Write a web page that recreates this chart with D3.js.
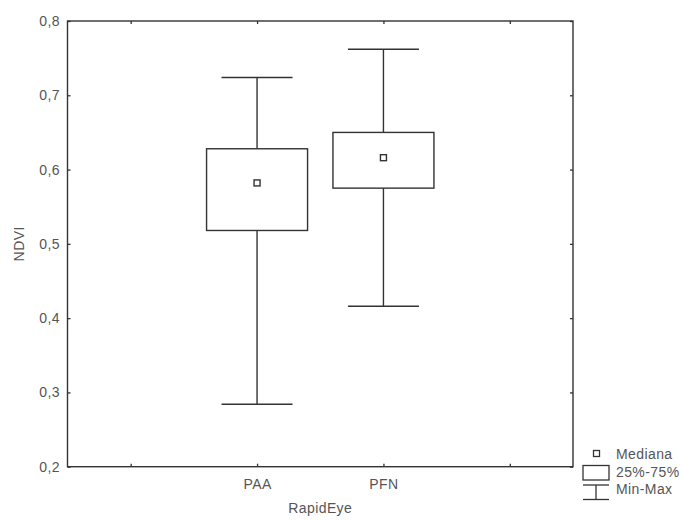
<!DOCTYPE html>
<html>
<head>
<meta charset="utf-8">
<script src="https://cdn.jsdelivr.net/npm/d3@7"></script>
<style>
  body { margin: 0; background: #fff; }
  text { font-family: "Liberation Sans", Arial, sans-serif; fill: #555; letter-spacing: 0.4px; }
</style>
</head>
<body>
<div id="chart"></div>
<script>
// groups and box stats
let groups = ["PAA", "PFN"];
let minVals = [0.284, 0.416];
let q1Vals = [0.518, 0.575];
let medVals = [0.582, 0.616];
let q3Vals = [0.628, 0.650];
let maxVals = [0.724, 0.762];
let yTicks = [0.2, 0.3, 0.4, 0.5, 0.6, 0.7, 0.8];

let W = 681, H = 520;
let plotL = 67.5, plotR = 573, plotT = 21, plotB = 466.7;
let stroke = "#333";
let fs = "14px";

let svg = d3.select("#chart").append("svg")
    .attr("width", W)
    .attr("height", H);

// empty slots on both ends, like the original
let slots = ["_a"].concat(groups, ["_b"]);
let x = d3.scalePoint().domain(slots).range([plotL, plotR]).padding(0.5);
let y = d3.scaleLinear().domain([0.2, 0.8]).range([plotB, plotT]);

let fmt = d => d3.format(".1f")(d).replace(".", ",");

// axes, ticks pointing inward
svg.append("g")
    .attr("transform", `translate(${plotL},0)`)
    .call(d3.axisLeft(y).tickValues(yTicks).tickSize(-3).tickPadding(7.5).tickFormat(fmt))
    .call(g => g.select(".domain").remove());
svg.append("g")
    .attr("transform", `translate(${plotR},0)`)
    .call(d3.axisRight(y).tickValues(yTicks).tickSize(-3).tickFormat(""))
    .call(g => g.select(".domain").remove());
svg.append("g")
    .attr("transform", `translate(0,${plotB})`)
    .call(d3.axisBottom(x).tickSize(-3).tickPadding(12.5).tickFormat(d => groups.includes(d) ? d : ""))
    .call(g => g.select(".domain").remove());
svg.append("g")
    .attr("transform", `translate(0,${plotT})`)
    .call(d3.axisTop(x).tickSize(-3).tickFormat(""))
    .call(g => g.select(".domain").remove());

svg.selectAll(".tick line").attr("stroke", stroke).attr("stroke-width", 1.3);
svg.selectAll(".tick text").style("font-size", fs).attr("fill", "#555");

// frame
svg.append("rect")
    .attr("x", plotL).attr("y", plotT)
    .attr("width", plotR - plotL).attr("height", plotB - plotT)
    .attr("fill", "none").attr("stroke", stroke).attr("stroke-width", 1.4);

// axis titles
svg.append("text")
    .attr("text-anchor", "middle")
    .attr("transform", `translate(24,${(plotT + plotB) / 2})rotate(-90)`)
    .style("font-size", fs)
    .text("NDVI");
svg.append("text")
    .attr("text-anchor", "middle")
    .attr("x", (plotL + plotR) / 2)
    .attr("y", 513)
    .style("font-size", fs)
    .text("RapidEye");

// boxes
let boxW = 101, capW = 71;
groups.forEach((g, i) => {
  let cx = x(g);
  let b = svg.append("g").attr("stroke", stroke).attr("stroke-width", 1.4).attr("fill", "none");
  b.append("line").attr("x1", cx).attr("x2", cx).attr("y1", y(maxVals[i])).attr("y2", y(q3Vals[i]));
  b.append("line").attr("x1", cx).attr("x2", cx).attr("y1", y(q1Vals[i])).attr("y2", y(minVals[i]));
  b.append("line").attr("x1", cx - capW / 2).attr("x2", cx + capW / 2).attr("y1", y(maxVals[i])).attr("y2", y(maxVals[i]));
  b.append("line").attr("x1", cx - capW / 2).attr("x2", cx + capW / 2).attr("y1", y(minVals[i])).attr("y2", y(minVals[i]));
  b.append("rect")
      .attr("x", cx - boxW / 2).attr("y", y(q3Vals[i]))
      .attr("width", boxW).attr("height", y(q1Vals[i]) - y(q3Vals[i]))
      .attr("fill", "#fff");
  b.append("rect")
      .attr("x", cx - 3).attr("y", y(medVals[i]) - 3)
      .attr("width", 6).attr("height", 6)
      .attr("fill", "#fff");
});

// legend
let lg = svg.append("g").attr("stroke", stroke).attr("stroke-width", 1.3).attr("fill", "none");
lg.append("rect").attr("x", 593.5).attr("y", 450.5).attr("width", 6).attr("height", 6).attr("fill", "#fff");
lg.append("rect").attr("x", 583).attr("y", 465.5).attr("width", 26).attr("height", 14.5);
lg.append("line").attr("x1", 583).attr("x2", 609).attr("y1", 485).attr("y2", 485);
lg.append("line").attr("x1", 583).attr("x2", 609).attr("y1", 499.5).attr("y2", 499.5);
lg.append("line").attr("x1", 596).attr("x2", 596).attr("y1", 485).attr("y2", 499.5);

let legendText = [["Mediana", 458.5], ["25%-75%", 476.5], ["Min-Max", 494]];
legendText.forEach(d => {
  svg.append("text").attr("x", 616).attr("y", d[1]).style("font-size", fs).text(d[0]);
});
</script>
</body>
</html>
